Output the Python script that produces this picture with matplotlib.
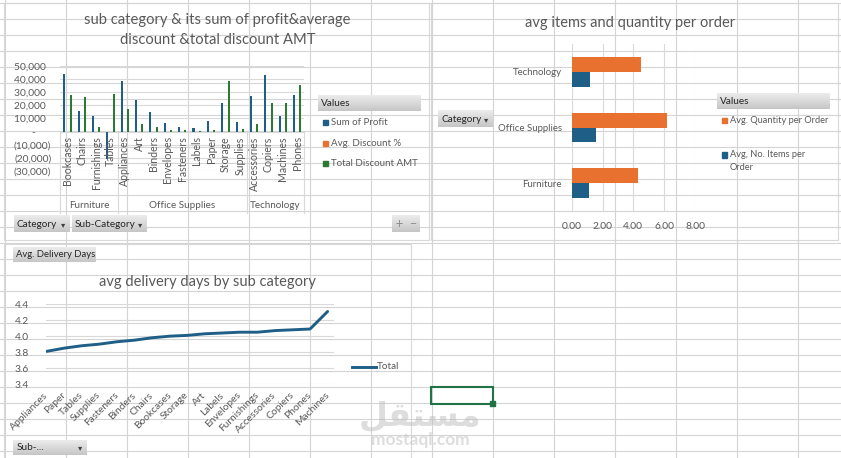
import numpy as np
import matplotlib
matplotlib.use("Agg")
import matplotlib.pyplot as plt
import matplotlib.transforms as mtransforms
from matplotlib.patches import Rectangle
from matplotlib.colors import LinearSegmentedColormap
from matplotlib.ticker import FuncFormatter

# ---- data ----
sub_cats = ["Bookcases", "Chairs", "Furnishings", "Tables",
            "Appliances", "Art", "Binders", "Envelopes", "Fasteners", "Labels",
            "Paper", "Storage", "Supplies",
            "Accessories", "Copiers", "Machines", "Phones"]
groups = ["Furniture", "Office Supplies", "Technology"]
group_sizes = [4, 9, 4]
profit = [43900, 15600, 11500, -20700, 38300, 23700, 14800, 6600, 3500, 2600,
          7700, 21900, 7100, 27000, 42900, 11700, 28100]
avg_disc = [0.17, 0.17, 0.14, 0.26, 0.17, 0.07, 0.37, 0.08, 0.08, 0.07,
            0.07, 0.07, 0.08, 0.08, 0.16, 0.31, 0.15]
disc_amt = [28100, 26500, 3800, 28800, 17100, 5900, 3800, 1300, 1000, 300,
            1000, 38300, 1800, 5400, 21900, 21900, 35700]
series1 = ["Sum of Profit", "Avg. Discount %", "Total Discount AMT"]

cats2 = ["Furniture", "Office Supplies", "Technology"]
avg_qty = [4.33, 6.17, 4.50]
avg_items = [1.15, 1.60, 1.17]
series2 = ["Avg. Quantity per Order", "Avg, No. Items per\nOrder"]

sub_cats3 = ["Appliances", "Paper", "Tables", "Supplies", "Fasteners", "Binders",
             "Chairs", "Bookcases", "Storage", "Art", "Labels", "Envelopes",
             "Furnishings", "Accessories", "Copiers", "Phones", "Machines"]
delivery = [3.81, 3.85, 3.88, 3.90, 3.93, 3.95, 3.98, 4.00, 4.01, 4.03, 4.04,
            4.05, 4.05, 4.07, 4.08, 4.09, 4.31]
series3 = "Total"

BLUE, ORANGE, GREEN = "#1f5f87", "#e9712f", "#2a7a31"
TXT, GRID, CELL = "#595959", "#d9d9d9", "#d4d4d4"
W, H = 841, 458

plt.rcParams["font.family"] = ["Lato", "DejaVu Sans"]
fig = plt.figure(figsize=(W / 100, H / 100), dpi=100)


def fax(x0, y0, x1, y1, z=5):
    ax = fig.add_axes([x0 / W, 1 - y1 / H, (x1 - x0) / W, (y1 - y0) / H], zorder=z)
    ax.patch.set_alpha(0)
    return ax


# spreadsheet background
bg = fax(0, 0, W, H, z=0)
bg.set_xlim(0, W); bg.set_ylim(H, 0); bg.axis("off")
bg.add_patch(Rectangle((0, 0), W, H, color="white"))
for x in 4.7 + 61 * np.arange(14):
    bg.axvline(x, color=CELL, lw=0.8)
for y in 2.7 + 16 * np.arange(29):
    bg.axhline(y, color=CELL, lw=0.8)
for (x0, y0, x1, y1) in [(4.5, 3, 429, 240), (431.5, 3, 838.5, 240), (4.5, 243.5, 411, 470)]:
    bg.add_patch(Rectangle((x0, y0), x1 - x0, y1 - y0, facecolor="white", edgecolor=GRID, lw=0.8))

# ---- chart 1: profit / discount by sub category ----
ax1 = fax(60.3, 65.7, 304.3, 171)
x = np.arange(len(sub_cats))
ax1.bar(x - 0.22, profit, 0.14, color=BLUE)
ax1.bar(x, avg_disc, 0.14, color=ORANGE)
ax1.bar(x + 0.22, disc_amt, 0.14, color=GREEN)
ax1.set_xlim(-0.5, len(sub_cats) - 0.5)
ax1.set_ylim(-30000, 50000)
ax1.set_yticks(np.arange(-30000, 50001, 10000))


def acct(v, pos):
    if v == 0:
        return "-      "
    if v < 0:
        return "({:,.0f})".format(-v)
    return "{:,.0f}  ".format(v)


ax1.yaxis.set_major_formatter(FuncFormatter(acct))
ax1.set_xticks([])
ax1.tick_params(axis="y", length=0, pad=6.5, labelsize=7.4, labelcolor=TXT)
ax1.grid(axis="y", color=GRID, lw=0.8)
ax1.set_axisbelow(True)
for s in ax1.spines.values():
    s.set_visible(False)
for i, name in enumerate(sub_cats):
    ax1.annotate(name, (i, 0), xytext=(0, -3.5), textcoords="offset points", rotation=90,
                 ha="center", va="top", fontsize=7.6, color=TXT, annotation_clip=False)
tr = mtransforms.blended_transform_factory(ax1.transData, ax1.transAxes)
edges = np.concatenate([[0], np.cumsum(group_sizes)]) - 0.5
for e in edges:
    ax1.plot([e, e], [-0.40, 0.375], transform=tr, color=GRID, lw=0.8, clip_on=False)
for g, a, b in zip(groups, edges[:-1], edges[1:]):
    ax1.text((a + b) / 2, -0.33, g, transform=tr, ha="center", va="center", fontsize=7.1, color=TXT)

# ---- chart 2: avg items and quantity ----
ax2 = fax(571.7, 44, 695, 211)
y = np.arange(len(cats2))
ax2.barh(y + 0.132, avg_qty, 0.264, color=ORANGE)
ax2.barh(y - 0.132, avg_items, 0.264, color=BLUE)
ax2.set_xlim(0, 8); ax2.set_ylim(-0.5, len(cats2) - 0.5)
ax2.set_xticks(np.arange(0, 8.1, 2))
ax2.xaxis.set_major_formatter(FuncFormatter(lambda v, p: "{:.2f}".format(v)))
ax2.set_yticks(y, cats2)
ax2.tick_params(axis="x", length=0, pad=8, labelsize=7.4, labelcolor=TXT)
ax2.tick_params(axis="y", length=0, pad=7, labelsize=6.9, labelcolor=TXT)
ax2.grid(axis="x", color=GRID, lw=0.8)
ax2.set_axisbelow(True)
for s in ax2.spines.values():
    s.set_visible(False)

# ---- chart 3: avg delivery days ----
ax3 = fax(45.7, 304.3, 334.3, 384)
x3 = np.arange(len(sub_cats3))
ax3.plot(x3, delivery, color=BLUE, lw=2.1, solid_capstyle="round")
ax3.set_xlim(-0.057, 16.38); ax3.set_ylim(3.4, 4.4)
ax3.set_yticks(np.arange(3.4, 4.41, 0.2))
ax3.yaxis.set_major_formatter(FuncFormatter(lambda v, p: "{:.1f}".format(v)))
ax3.set_xticks(x3, sub_cats3)
plt.setp(ax3.get_xticklabels(), rotation=45, ha="right", va="center", rotation_mode="anchor")
ax3.tick_params(axis="x", length=0, pad=7, labelsize=7.4, labelcolor=TXT)
ax3.tick_params(axis="y", length=0, pad=12, labelsize=7.4, labelcolor=TXT)
ax3.grid(axis="y", color=GRID, lw=0.8)
ax3.set_axisbelow(True)
for s in ax3.spines.values():
    s.set_visible(False)

# ---- overlay: titles, legends, pivot buttons ----
ov = fax(0, 0, W, H, z=10)
ov.axis("off")
btn_cmap = LinearSegmentedColormap.from_list("btn", ["#ececec", "#c6c6c6"])
grad = np.linspace(0, 1, 32).reshape(-1, 1)


def button(x0, y0, x1, y1, label, arrow=True, size=7.2):
    ov.imshow(grad, cmap=btn_cmap, extent=(x0, x1, y1, y0), aspect="auto", interpolation="bilinear")
    ov.text(x0 + 3, (y0 + y1) / 2, label, ha="left", va="center", fontsize=size, color="#262626")
    if arrow:
        ov.text(x1 - 7, (y0 + y1) / 2, "\u25be", ha="center", va="center", fontsize=6,
                color="#404040", family="DejaVu Sans")


ov.text(217.5, 20, "sub category & its sum of profit&average", ha="center", va="center",
        fontsize=10.6, color=TXT)
ov.text(217.5, 40, "discount &total discount AMT", ha="center", va="center", fontsize=10.6, color=TXT)
ov.text(630, 23, "avg items and quantity per order", ha="center", va="center", fontsize=10.5, color=TXT)
ov.text(207, 282, "avg delivery days by sub category", ha="center", va="center", fontsize=10.5, color=TXT)

# legend chart 1
button(318, 95.5, 421, 111, "Values", arrow=False)
for (lab, c, yy) in zip(series1, [BLUE, ORANGE, GREEN], [122.3, 143.3, 163.7]):
    ov.add_patch(Rectangle((323, yy - 2.7), 5.4, 5.4, color=c))
    ov.text(331, yy, lab, ha="left", va="center", fontsize=7.0, color=TXT)

# legend chart 2
button(717, 93.5, 830, 109.3, "Values", arrow=False)
for (lab, c, yy) in zip(series2, [ORANGE, BLUE], [120.7, 155]):
    ov.add_patch(Rectangle((722, yy - 2.7), 5.4, 5.4, color=c))
    ov.text(730, yy - 5, lab, ha="left", va="top", fontsize=6.7, color=TXT, linespacing=1.6)

# legend chart 3
ov.plot([352, 376], [366.7, 366.7], color=BLUE, lw=2.1)
ov.text(376.5, 366.7, series3, ha="left", va="center", fontsize=7.1, color=TXT)

button(14, 216, 70, 232.3, "Category")
button(72, 216, 147, 232.3, "Sub-Category")
button(392.3, 216, 405.8, 232.3, "", arrow=False)
button(406.2, 216, 419.5, 232.3, "", arrow=False)
ov.text(399, 224, "+", ha="center", va="center", fontsize=9, color="#8a8a8a")
ov.text(413, 224, "\u2212", ha="center", va="center", fontsize=9, color="#8a8a8a")
button(438.3, 111, 492.7, 127.3, "Category")
button(13.3, 247.3, 96, 262, "Avg. Delivery Days", arrow=False, size=6.8)
button(13.3, 440, 87, 455, "Sub-...")

# selected cell
ov.add_patch(Rectangle((431, 387), 62, 16.5, fill=False, edgecolor="#217346", lw=1.5))
ov.add_patch(Rectangle((490.5, 401), 5, 5, color="#217346"))

# watermark
ov.text(420, 416, "\ufede\ufed8\ufe98\ufeb4\ufee3", ha="center", va="center", fontsize=24,
        fontweight="bold", color="#bdbdbd", alpha=0.5, family="DejaVu Sans")
ov.text(420, 440, "mostaql.com", ha="center", va="center", fontsize=12.5,
        fontweight="bold", color="#bdbdbd", alpha=0.5)

ov.set_xlim(0, W); ov.set_ylim(H, 0)

fig.savefig("out.png", dpi=100)
